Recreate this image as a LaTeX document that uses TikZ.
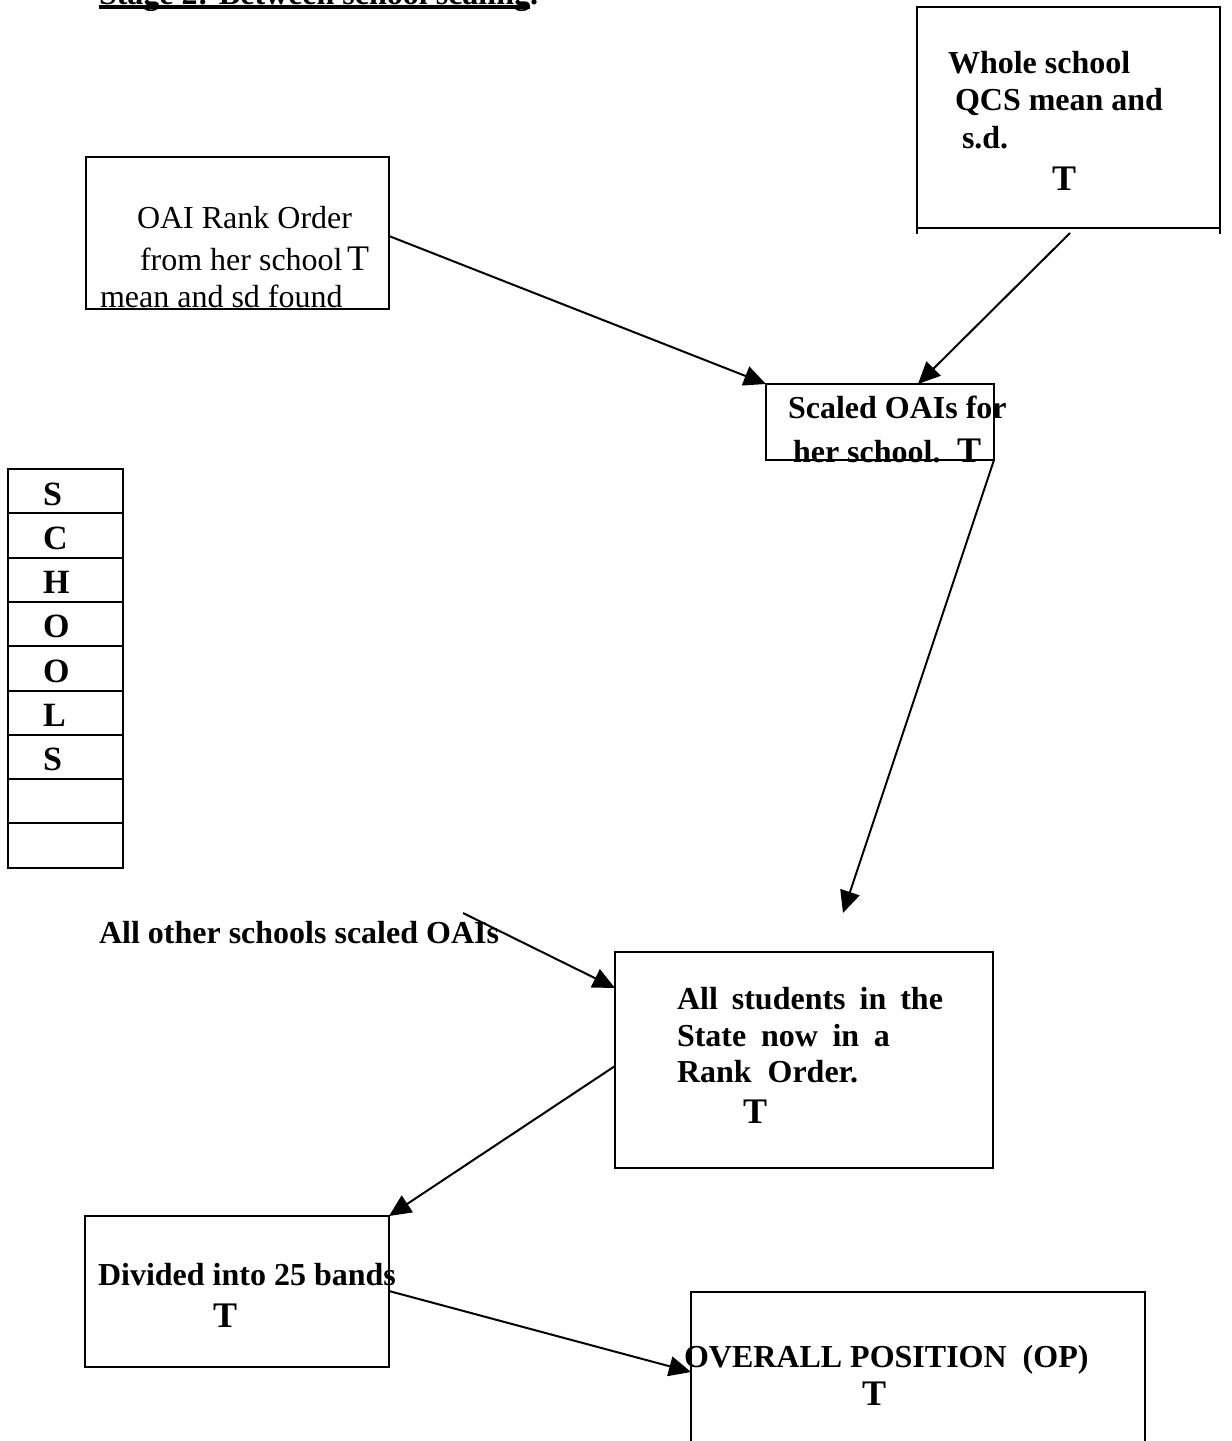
\documentclass[tikz,border=0pt]{standalone}
\usepackage{fontspec}
\setmainfont{Liberation Serif}
\usetikzlibrary{arrows.meta}
\begin{document}
\begin{tikzpicture}[x=0.5pt,y=-0.5pt,
  box/.style={draw,line width=1pt,inner sep=0pt,outer sep=0pt,anchor=north west},
  txt/.style={anchor=base west,inner sep=0pt,outer sep=0pt,font=\fontsize{16}{19}\selectfont},
  btxt/.style={anchor=base west,inner sep=0pt,outer sep=0pt,font=\fontsize{16}{19}\selectfont\bfseries},
  bigT/.style={anchor=base west,inner sep=0pt,outer sep=0pt,font=\fontsize{18}{21}\selectfont\bfseries},
  regT/.style={anchor=base west,inner sep=0pt,outer sep=0pt,font=\fontsize{18}{21}\selectfont},
  letter/.style={anchor=base west,inner sep=0pt,outer sep=0pt,font=\fontsize{17}{20}\selectfont\bfseries},
  conn/.style={line width=1pt,-{Triangle[length=11pt,width=10pt]}}]
\useasboundingbox (0,0) rectangle (1232,1441);
\clip (0,0) rectangle (1232,1441);

% title (cut off at top)
\node[btxt] (title) at (99,4) {Stage 2: Between school scaling.};
\draw[line width=2pt] (99,7) -- (530,7);

% OAI box
\node[box,minimum width=151.5pt,minimum height=76pt] (oai) at (86,157) {};
\node[txt] (oai1) at (137,228) {OAI Rank Order};
\node[txt] (oai2) at (140,270) {from her school};
\node[regT] (oaiT) at (347,270) {T};
\node[txt] (oai3) at (100,307) {mean and sd found};

% Whole school box
\node[box,minimum width=151.5pt,minimum height=110.5pt] (whole) at (917,7) {};
\draw[line width=1pt] (whole.south west) -- ++(0,6);
\draw[line width=1pt] (whole.south east) -- ++(0,6);
\node[btxt] (wh1) at (948,73) {Whole school};
\node[btxt] (wh2) at (955,110) {QCS mean and};
\node[btxt] (wh3) at (962,148) {s.d.};
\node[bigT] (whT) at (1052,190) {T};

% Scaled OAIs box
\node[box,minimum width=114pt,minimum height=38pt] (scaled) at (766,384) {};
\node[btxt] (sc1) at (788,418) {Scaled OAIs for};
\node[btxt] (sc2) at (793,462) {her school.};
\node[bigT] (scT) at (957,462) {T};

% SCHOOLS table
\foreach \i in {0,...,8}
  \node[box,minimum width=57.5pt,minimum height=22.15pt] (s\i) at (8,{469+\i*44.3}) {};
\foreach \l [count=\i from 0] in {S,C,H,O,O,L,S}
  \node[letter] (l\i) at (43,{505+\i*44.3}) {\l};

% other schools label
\node[btxt] (other) at (99,943) {All other schools scaled OAIs};

% All students box
\node[box,minimum width=189pt,minimum height=108pt] (students) at (615,952) {};
\node[btxt] (st1) at (677,1009) {\makebox[133pt][s]{All students in the}};
\node[btxt] (st2) at (677,1046) {\makebox[106.5pt][s]{State now in a}};
\node[btxt] (st3) at (677,1082) {\makebox[90.5pt][s]{Rank Order.}};
\node[bigT] (stT) at (743,1123) {T};

% Divided box
\node[box,minimum width=152pt,minimum height=75.5pt] (divided) at (85,1216) {};
\node[btxt] (dv1) at (98,1285) {Divided into 25 bands};
\node[bigT] (dvT) at (213,1327) {T};

% OP box (cut at bottom)
\node[box,minimum width=227pt,minimum height=90pt] (op) at (691,1292) {};
\node[btxt] (op1) at (684,1367) {OVERALL POSITION\ \ (OP)};
\node[bigT] (opT) at (862,1405) {T};

% connector end points
\coordinate (a1s) at (389,236);
\coordinate (a2s) at (1070,233);
\coordinate (a2e) at (918,384);
\coordinate (a3e) at (843,913);
\coordinate (a4s) at (463,913);
\coordinate (a4e) at (615,988);
\coordinate (a5s) at (615,1066);
\coordinate (a6s) at (389,1291);
\coordinate (a6e) at (691,1372);

\draw[conn] (a1s) -- (scaled.north west);
\draw[conn] (a2s) -- (a2e);
\draw[conn] (scaled.south east) -- (a3e);
\draw[conn] (a4s) -- (a4e);
\draw[conn] (a5s) -- (divided.north east);
\draw[conn] (a6s) -- (a6e);
\end{tikzpicture}
\end{document}
